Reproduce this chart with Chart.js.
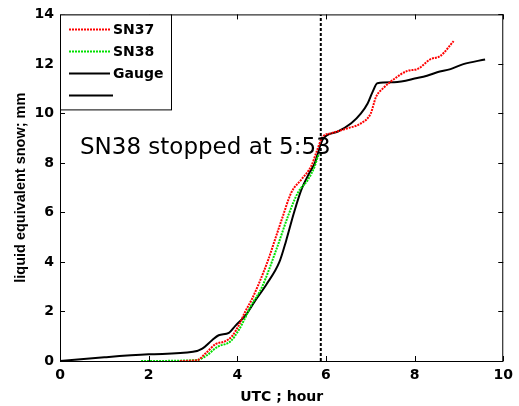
<!DOCTYPE html>
<html>
<head>
<meta charset="utf-8">
<script src="https://cdn.jsdelivr.net/npm/chart.js@4.4.1/dist/chart.umd.min.js"></script>
<style>
  body { margin: 0; background: #fff; }
  #box { width: 519px; height: 406px; }
</style>
</head>
<body>
<div id="box"><canvas id="grafico"></canvas></div>
<script>
// snow accumulation (mm) against UTC hour
var sn37X = [2.7, 3.1, 3.28, 3.51, 3.73, 3.88, 4.03, 4.18, 4.33, 4.48, 4.7, 4.85, 5.0, 5.22, 5.45, 5.67, 5.78, 5.89, 5.95, 6.12, 6.49, 6.79, 7.01, 7.13, 7.28, 7.54, 7.84, 8.06, 8.36, 8.58, 8.88];
var sn37Y = [0, 0.04, 0.3, 0.68, 0.8, 1.0, 1.43, 2.0, 2.5, 3.1, 4.1, 4.9, 5.7, 6.81, 7.34, 7.88, 8.41, 8.94, 9.1, 9.2, 9.4, 9.6, 10.0, 10.67, 11.0, 11.39, 11.72, 11.79, 12.19, 12.32, 12.92];

var sn38X = [1.83, 3.1, 3.32, 3.55, 3.85, 4.03, 4.18, 4.3, 4.55, 4.89, 5.15, 5.37, 5.6, 5.75, 5.82, 5.86];
var sn38Y = [0, 0.04, 0.24, 0.57, 0.8, 1.24, 1.75, 2.2, 2.96, 4.55, 5.88, 6.81, 7.34, 7.88, 8.27, 8.35];

var gaugeX = [0, 1, 2, 3, 3.21, 3.43, 3.58, 3.81, 3.96, 4.18, 4.4, 4.66, 4.95, 5.1, 5.28, 5.45, 5.63, 5.75, 5.82, 5.93, 6.27, 6.57, 6.79, 6.94, 7.05, 7.16, 7.54, 8.06, 8.28, 8.51, 8.81, 9.1, 9.59];
var gaugeY = [0, 0.15, 0.27, 0.37, 0.5, 0.84, 1.04, 1.14, 1.43, 1.83, 2.43, 3.1, 4.0, 4.85, 6.0, 6.94, 7.61, 8.0, 8.41, 8.96, 9.27, 9.6, 10.0, 10.4, 10.86, 11.22, 11.26, 11.43, 11.52, 11.66, 11.79, 11.99, 12.18];

var paradaHora = 5 + 53 / 60;
var xTicks = [0, 2, 4, 6, 8, 10];
var yTicks = [0, 2, 4, 6, 8, 10, 12, 14];

var fonteLarga = '"DejaVu Sans", sans-serif';
var fonte = '"Liberation Sans", Arial, sans-serif';

function pontos(xs, ys) {
    return xs.map(function (x, i) { return { x: x, y: ys[i] }; });
}

// ticks pointing inward, box around plot, legend and note
var moldura = {
    id: 'moldura',
    afterDraw: function (chart) {
        var ctx = chart.ctx;
        var a = chart.chartArea;
        var sx = chart.scales.x, sy = chart.scales.y;
        ctx.save();
        ctx.strokeStyle = '#000';
        ctx.lineWidth = 1;
        ctx.beginPath();
        xTicks.forEach(function (v) {
            var px = Math.round(sx.getPixelForValue(v)) + 0.5;
            ctx.moveTo(px, a.bottom); ctx.lineTo(px, a.bottom - 5);
            ctx.moveTo(px, a.top); ctx.lineTo(px, a.top + 5);
        });
        yTicks.forEach(function (v) {
            var py = Math.round(sy.getPixelForValue(v)) + 0.5;
            ctx.moveTo(a.left, py); ctx.lineTo(a.left + 5, py);
            ctx.moveTo(a.right, py); ctx.lineTo(a.right - 5, py);
        });
        ctx.stroke();
        ctx.strokeRect(a.left + 0.5, a.top + 0.5, a.right - a.left - 1, a.bottom - a.top);

        // legend
        var lx = a.left, ly = a.top;
        ctx.fillStyle = '#fff';
        ctx.fillRect(lx, ly, 111, 95);
        ctx.strokeRect(lx + 0.5, ly + 0.5, 111, 95);
        var itens = [
            { t: 'SN37', c: '#ff0000', d: [2, 1] },
            { t: 'SN38', c: '#00e000', d: [2, 1] },
            { t: 'Gauge', c: '#000', d: [] },
            { t: '', c: '#000', d: [] }
        ];
        ctx.font = 'bold 14px ' + fonteLarga;
        ctx.textBaseline = 'middle';
        itens.forEach(function (it, i) {
            var y = ly + 15 + i * 22;
            ctx.strokeStyle = it.c;
            ctx.lineWidth = 2;
            ctx.setLineDash(it.d);
            ctx.beginPath();
            ctx.moveTo(lx + 9, y); ctx.lineTo(lx + (i == 3 ? 53 : 50), y);
            ctx.stroke();
            ctx.setLineDash([]);
            ctx.fillStyle = '#000';
            ctx.fillText(it.t, lx + 53, y + 1);
        });

        // note
        ctx.font = '23px ' + fonteLarga;
        ctx.textBaseline = 'alphabetic';
        ctx.fillStyle = '#000';
        ctx.fillText('SN38 stopped at 5:53', sx.getPixelForValue(0.45), sy.getPixelForValue(8.37));
        ctx.restore();
    }
};

var ctx = document.getElementById('grafico').getContext('2d');
var grafico = new Chart(ctx, {
    type: 'scatter',
    data: {
        datasets: [
            {
                label: 'SN37',
                data: pontos(sn37X, sn37Y),
                showLine: true,
                borderColor: '#ff0000',
                borderWidth: 2,
                borderDash: [2, 1],
                pointRadius: 0,
                cubicInterpolationMode: 'monotone'
            },
            {
                label: 'SN38',
                data: pontos(sn38X, sn38Y),
                showLine: true,
                borderColor: '#00e000',
                borderWidth: 2,
                borderDash: [2, 1],
                pointRadius: 0,
                cubicInterpolationMode: 'monotone'
            },
            {
                label: 'Gauge',
                data: pontos(gaugeX, gaugeY),
                showLine: true,
                borderColor: '#000',
                borderWidth: 2,
                pointRadius: 0,
                cubicInterpolationMode: 'monotone'
            },
            {
                label: '',
                data: [{ x: paradaHora, y: 0 }, { x: paradaHora, y: 14 }],
                showLine: true,
                borderColor: '#000',
                borderWidth: 2,
                borderDash: [3, 2],
                pointRadius: 0
            }
        ]
    },
    options: {
        responsive: true,
        maintainAspectRatio: false,
        animation: false,
        layout: { padding: { top: 9, right: 12, left: 0, bottom: 0 } },
        plugins: { legend: { display: false }, tooltip: { enabled: false } },
        scales: {
            x: {
                type: 'linear',
                min: 0, max: 10,
                afterBuildTicks: function (s) { s.ticks = xTicks.map(function (v) { return { value: v }; }); },
                afterFit: function (s) { s.height = 45; },
                grid: { display: false, drawTicks: false },
                border: { display: false },
                ticks: { color: '#000', font: { family: fonteLarga, size: 14, weight: 'bold' }, padding: 6, maxRotation: 0 },
                title: { display: true, text: 'UTC ; hour', color: '#000', font: { family: fonteLarga, size: 14, weight: 'bold' }, padding: { top: 0, bottom: 0 } }
            },
            y: {
                type: 'linear',
                min: 0, max: 14,
                afterBuildTicks: function (s) { s.ticks = yTicks.map(function (v) { return { value: v }; }); },
                afterFit: function (s) { s.width = 60; },
                grid: { display: false, drawTicks: false },
                border: { display: false },
                ticks: { color: '#000', font: { family: fonteLarga, size: 14, weight: 'bold' }, padding: 6 },
                title: { display: true, text: 'liquid equivalent snow; mm', color: '#000', font: { family: fonte, size: 14.5, weight: 'bold' }, padding: { top: 12, bottom: 0 } }
            }
        }
    },
    plugins: [moldura]
});
</script>
</body>
</html>
